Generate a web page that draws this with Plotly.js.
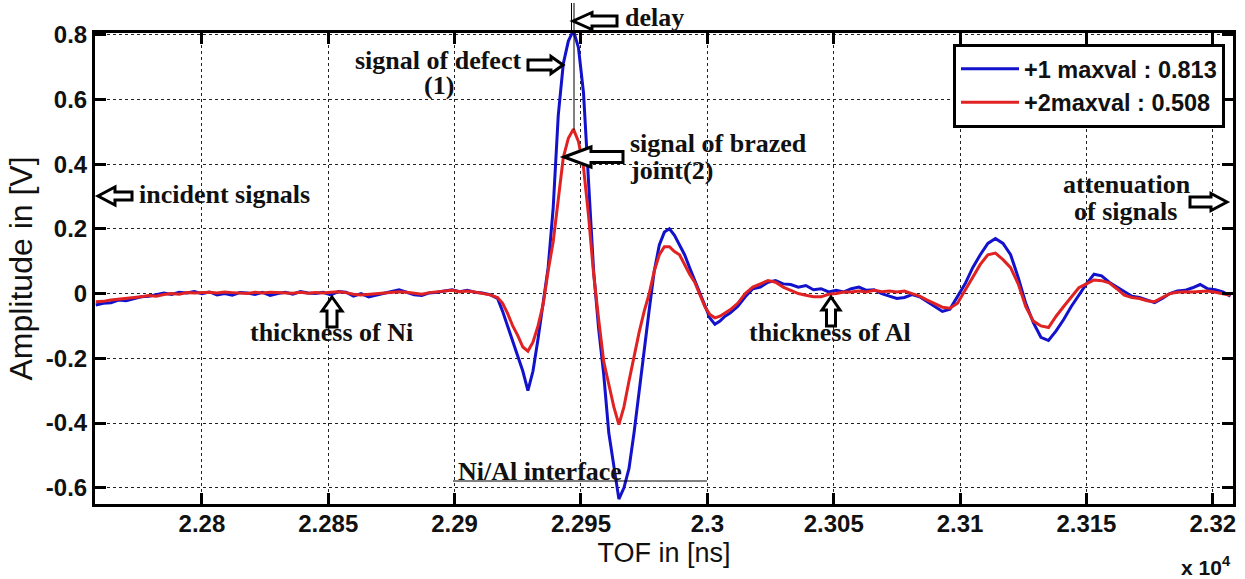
<!DOCTYPE html>
<html><head><meta charset="utf-8">
<script src="https://cdn.plot.ly/plotly-3.0.1.min.js"></script>
<style>html,body{margin:0;padding:0;background:#fff}#chart{width:1245px;height:579px}</style>
</head><body><div id="chart"></div><script>
// ---- data (time of flight in ns, amplitude in V) ----
const tofNs = [
22758,22761,22764,22767,22770,22773,22776,22779,22782,22785,22788,22791,22794,22797,22800,22803,22806,22809,22812,22815,
22818,22821,22824,22827,22830,22833,22836,22839,22842,22845,22848,22851,22854,22857,22860,22863,22866,22869,22872,22875,
22878,22881,22884,22887,22890,22893,22896,22899,22902,22905,22908,22911,22914,
22917,22919,22921,22923,22925,22927,22929,22931,22933,22935,22937,22939,22941,22943,22945,22947,22949,22951,22953,22955,
22957,22959,22961,22963,22965,22967,22969,22971,22973,22975,22977,22979,22981,22983,22985,22987,22989,22991,22993,22995,
22997,22999,23001,23003,23005,23007,23009,
23012,23015,23018,23021,23024,23027,23030,23033,23036,23039,23042,23045,23048,23051,23054,23057,23060,23063,23066,23069,
23072,23075,23078,23081,23084,23087,23090,23093,23096,23099,23102,23105,23108,23111,23114,23117,23120,23123,23126,23129,
23132,23135,23138,23141,23144,23147,23150,23153,23156,23159,23162,23165,23168,23171,23174,23177,23180,23183,23186,23189,
23192,23195,23198,23201,23204,23207
];
const blueAmp = [
-0.035,-0.03,-0.028,-0.02,-0.022,-0.015,-0.01,-0.008,-0.004,0.002,-0.003,0.004,0.002,0.006,0.0,0.005,-0.004,0.0,-0.005,0.003,
0.002,-0.003,0.004,-0.006,0.0,0.004,-0.002,0.006,0.002,0.0,0.004,-0.004,0.006,0.004,-0.008,0.0,-0.01,-0.004,0.002,0.006,
0.012,0.004,-0.004,-0.006,0.002,0.004,0.008,0.012,0.006,0.01,0.004,0.002,-0.003,
-0.015,-0.055,-0.10,-0.15,-0.19,-0.24,-0.30,-0.24,-0.14,-0.03,0.08,0.265,0.55,0.71,0.78,0.813,0.76,0.62,0.36,0.07,
-0.11,-0.25,-0.43,-0.53,-0.635,-0.60,-0.54,-0.43,-0.30,-0.17,-0.05,0.07,0.15,0.19,0.20,0.18,0.15,0.12,0.08,0.04,
0.0,-0.04,-0.075,-0.095,-0.085,-0.07,-0.06,
-0.04,-0.01,0.015,0.02,0.035,0.04,0.03,0.028,0.02,0.025,0.012,0.015,0.005,0.01,0.005,0.015,0.02,0.01,0.012,0.0,
-0.008,-0.015,-0.012,-0.003,-0.01,-0.025,-0.04,-0.055,-0.048,-0.01,0.03,0.08,0.12,0.155,0.17,0.155,0.12,0.05,-0.03,-0.09,
-0.135,-0.145,-0.115,-0.08,-0.04,-0.005,0.03,0.06,0.055,0.035,0.02,0.005,-0.008,-0.012,-0.02,-0.028,-0.015,0.0,0.008,0.01,
0.018,0.028,0.015,0.012,0.005,-0.008
];
const redAmp = [
-0.025,-0.024,-0.02,-0.018,-0.015,-0.012,-0.01,-0.006,-0.008,-0.003,0.0,-0.002,0.003,0.002,0.003,0.004,0.002,0.005,0.003,0.002,
0.0,0.004,0.002,0.004,0.003,0.002,0.001,0.004,0.001,0.003,0.002,0.004,0.006,0.003,-0.002,-0.004,-0.002,0.0,0.004,0.005,
0.006,0.004,0.0,-0.002,0.003,0.006,0.008,0.01,0.006,0.008,0.005,0.0,-0.004,
-0.012,-0.03,-0.062,-0.10,-0.13,-0.165,-0.178,-0.15,-0.10,-0.035,0.07,0.16,0.29,0.42,0.48,0.508,0.47,0.39,0.24,0.06,
-0.08,-0.21,-0.28,-0.35,-0.405,-0.35,-0.27,-0.19,-0.12,-0.055,0.0,0.07,0.12,0.145,0.145,0.13,0.12,0.09,0.06,0.035,
0.0,-0.04,-0.065,-0.075,-0.07,-0.06,-0.05,
-0.03,0.0,0.02,0.03,0.04,0.035,0.02,0.01,0.0,-0.005,-0.01,-0.01,-0.002,0.0,0.005,0.005,0.008,0.005,0.01,0.006,
0.008,0.005,0.008,0.0,-0.008,-0.02,-0.032,-0.042,-0.045,-0.03,0.01,0.05,0.09,0.12,0.125,0.105,0.08,0.03,-0.04,-0.085,
-0.10,-0.105,-0.07,-0.04,-0.01,0.018,0.03,0.042,0.04,0.033,0.015,-0.005,-0.012,-0.015,-0.022,-0.025,-0.012,0.0,0.004,0.006,
0.005,0.006,0.008,0.004,0.0,-0.005
];
const seriesNames = ['+1 maxval : 0.813', '+2maxval : 0.508'];
const xTickVals = [22800,22850,22900,22950,23000,23050,23100,23150,23200];
const xTickText = ['2.28','2.285','2.29','2.295','2.3','2.305','2.31','2.315','2.32'];
const yTickVals = [-0.6,-0.4,-0.2,0,0.2,0.4,0.6,0.8];
const yTickText = ['-0.6','-0.4','-0.2','0','0.2','0.4','0.6','0.8'];

// ---- layout geometry helpers (page pixels -> paper coords) ----
const M = {l:95, r:12, t:33, b:75};
const PW = 1245 - M.l - M.r, PH = 579 - M.t - M.b;
const fx = px => (px - M.l) / PW;
const fy = py => 1 - (py - M.t) / PH;
function poly(pts){
  return 'M' + pts.map(p => fx(p[0]).toFixed(5) + ',' + fy(p[1]).toFixed(5)).join(' L') + ' Z';
}
function arrowLeft(x0, x1, yc, hh, sh, hl){
  return poly([[x0,yc],[x0+hl,yc-hh],[x0+hl,yc-sh],[x1,yc-sh],[x1,yc+sh],[x0+hl,yc+sh],[x0+hl,yc+hh]]);
}
function arrowRight(x0, x1, yc, hh, sh, hl){
  return poly([[x1,yc],[x1-hl,yc-hh],[x1-hl,yc-sh],[x0,yc-sh],[x0,yc+sh],[x1-hl,yc+sh],[x1-hl,yc+hh]]);
}
function arrowUp(xc, y0, y1, hw, sw, hl){
  return poly([[xc,y0],[xc+hw,y0+hl],[xc+sw,y0+hl],[xc+sw,y1],[xc-sw,y1],[xc-sw,y0+hl],[xc-hw,y0+hl]]);
}
const arrowStyle = {type:'path', xref:'paper', yref:'paper', line:{color:'#000', width:3}, fillcolor:'#fff', layer:'above'};
function lineShape(x0,y0,x1,y1){
  return {type:'line', xref:'paper', yref:'paper', x0:fx(x0), y0:fy(y0), x1:fx(x1), y1:fy(y1), line:{color:'#000', width:1}, layer:'above'};
}
const shapes = [
  lineShape(574, 3, 574, 130),
  lineShape(571.5, 3, 571.5, 33),
  lineShape(453, 481, 707, 481),
  Object.assign({path: arrowLeft(573, 617, 21, 8.5, 5, 19)}, arrowStyle),
  Object.assign({path: arrowRight(528, 563, 65, 8.5, 5, 12)}, arrowStyle),
  Object.assign({path: arrowLeft(564, 623, 157, 10, 5.5, 27)}, arrowStyle),
  Object.assign({path: arrowLeft(98, 132, 196, 9, 4, 17)}, arrowStyle),
  Object.assign({path: arrowRight(1190, 1227, 202, 8.5, 5, 16)}, arrowStyle),
  Object.assign({path: arrowUp(332, 297, 327, 10, 5, 14)}, arrowStyle),
  Object.assign({path: arrowUp(831, 297, 326, 9, 4.5, 13)}, arrowStyle)
];
const serif = {family:'Liberation Serif, Times New Roman, serif', size:26, color:'#111', weight:'bold'};
function note(text, px, py, xanchor){
  return {text:text, xref:'paper', yref:'paper', x:fx(px), y:fy(py), xanchor:xanchor||'center', yanchor:'middle', showarrow:false, font:serif, borderpad:0};
}
const annotations = [
  note('delay', 654, 17),
  note('signal of defect', 438, 61),
  note('(1)', 439, 86),
  note('signal of brazed', 629, 144, 'left'),
  note('joint(2)', 629, 171, 'left'),
  note('incident signals', 224, 195),
  note('attenuation', 1127, 185),
  note('of signals', 1125, 211),
  note('thickness of Ni', 331, 332),
  note('thickness of Al', 830, 332),
  note('Ni/Al interface', 540, 471),
  {text:'x 10<sup>4</sup>', xref:'paper', yref:'paper', x:fx(1206), y:fy(566), xanchor:'center', yanchor:'middle', showarrow:false,
   font:{family:'Liberation Sans, Arial, sans-serif', size:21, color:'#111', weight:'bold'}}
];

const traces = [
  {x: tofNs, y: blueAmp, name: seriesNames[0], type:'scatter', mode:'lines', line:{color:'#1212cc', width:3}},
  {x: tofNs, y: redAmp, name: seriesNames[1], type:'scatter', mode:'lines', line:{color:'#e02222', width:3}}
];
const tickFont = {family:'Liberation Sans, Arial, sans-serif', size:24, color:'#111', weight:'bold'};
const layout = {
  width:1245, height:579,
  margin:{l:M.l, r:M.r, t:M.t, b:M.b, pad:0},
  paper_bgcolor:'#fff', plot_bgcolor:'#fff',
  showlegend:true,
  legend:{x:fx(1225), y:fy(44), xanchor:'right', yanchor:'top', bgcolor:'#fff', bordercolor:'#000', borderwidth:3,
    font:{family:'Liberation Sans, Arial, sans-serif', size:23.5, color:'#111', weight:'bold'}, itemwidth:58, tracegroupgap:0},
  xaxis:{range:[22757.7, 23208], tickvals:xTickVals, ticktext:xTickText, tickfont:tickFont,
    ticks:'inside', ticklen:11, tickwidth:3, tickcolor:'#000', showline:true, linewidth:3, linecolor:'#000', mirror:'ticks',
    showgrid:true, gridcolor:'#222', griddash:'dot', gridwidth:1, zeroline:false, ticklabelstandoff:-4,
    title:{text:'TOF in [ns]', font:{family:'Liberation Sans, Arial, sans-serif', size:27, color:'#111'}, standoff:8}},
  yaxis:{range:[-0.65, 0.805], tickvals:yTickVals, ticktext:yTickText, tickfont:tickFont,
    ticks:'inside', ticklen:11, tickwidth:3, tickcolor:'#000', showline:true, linewidth:3, linecolor:'#000', mirror:'ticks',
    showgrid:true, gridcolor:'#222', griddash:'dot', gridwidth:1, zeroline:false,
    title:{text:'Amplitude in [V]', font:{family:'Liberation Sans, Arial, sans-serif', size:32, color:'#111'}, standoff:4}},
  shapes: shapes,
  annotations: annotations
};
Plotly.newPlot('chart', traces, layout, {staticPlot:true, displayModeBar:false});
</script></body></html>
